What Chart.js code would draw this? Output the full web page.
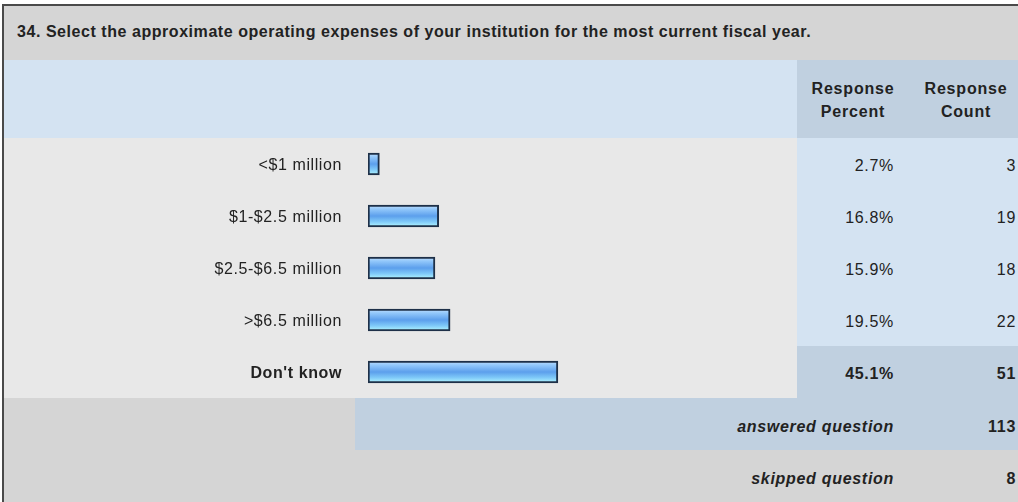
<!DOCTYPE html>
<html>
<head>
<meta charset="utf-8">
<script src="https://cdn.jsdelivr.net/npm/chart.js@4"></script>
<style>
    html, body { margin: 0; padding: 0; background: #fff; overflow: hidden; }
    body { width: 1018px; height: 502px; position: relative; font-family: "Liberation Sans", Arial, sans-serif; color: #222; }
    .frame { position: absolute; left: 2px; top: 4px; right: -10px; bottom: -10px; border-top: 2px solid #4a4a4a; border-left: 2px solid #4a4a4a; }
    .box { position: absolute; box-sizing: border-box; }
    .gray { background: #d5d5d5; }
    .light { background: #e8e8e8; }
    .blue { background: #d4e3f2; }
    .dblue { background: #c0d0e0; }
    .txt { position: absolute; font-size: 16px; letter-spacing: 0.7px; white-space: nowrap; }
    .b { font-weight: bold; }
    .bi { font-weight: bold; font-style: italic; }
    .title { letter-spacing: 0.55px; }
    .hdr { letter-spacing: 0.8px; }
    #chart { position: absolute; left: 4px; top: 138px; }
</style>
</head>
<body>
<div class="frame"></div>
<div id="table"></div>
<canvas id="chart" width="793" height="260"></canvas>

<script>
// Chart data
const questionTitle = '34. Select the approximate operating expenses of your institution for the most current fiscal year.';
const categories = ['<$1 million', '$1-$2.5 million', '$2.5-$6.5 million', '>$6.5 million', "Don't know"];
const percents = [2.7, 16.8, 15.9, 19.5, 45.1];
const counts = [3, 19, 18, 22, 51];
const answeredCount = 113;
const skippedCount = 8;

// Build the table around the chart
const table = document.getElementById('table');
let html = '';

function box(cls, x, y, w, h) {
    return `<div class="box ${cls}" style="left:${x}px;top:${y}px;width:${w}px;height:${h}px"></div>`;
}
function text(cls, str, x, y, align) {
    if (align === 'right') {
        // letter-spacing leaves a trailing gap, nudge it back
        return `<div class="txt ${cls}" style="right:${1018 - x - 1}px;top:${y}px">${str}</div>`;
    }
    if (align === 'center') {
        return `<div class="txt ${cls}" style="left:${x - 60}px;width:120px;text-align:center;top:${y}px">${str}</div>`;
    }
    return `<div class="txt ${cls}" style="left:${x}px;top:${y}px">${str}</div>`;
}

// title + header
html += box('gray', 4, 6, 1014, 54);
html += text('b title', questionTitle, 17, 23, 'left');
html += box('blue', 4, 60, 793, 78);
html += box('dblue', 797, 60, 221, 78);
html += text('b hdr', 'Response', 853, 80, 'center');
html += text('b hdr', 'Percent', 853, 103, 'center');
html += text('b hdr', 'Response', 966, 80, 'center');
html += text('b hdr', 'Count', 966, 103, 'center');

// data rows
categories.forEach((c, i) => {
    const y = 138 + i * 52;
    const last = i === categories.length - 1;
    html += box('light', 4, y, 793, 52);
    html += box(last ? 'dblue' : 'blue', 797, y, 221, 52);
    html += text(last ? 'b' : '', percents[i].toFixed(1) + '%', 893, y + 19, 'right');
    html += text(last ? 'b' : '', counts[i], 1015, y + 19, 'right');
});

// answered / skipped
html += box('gray', 4, 398, 351, 52);
html += box('dblue', 355, 398, 663, 52);
html += text('bi', 'answered question', 893, 418, 'right');
html += text('b', answeredCount, 1015, 418, 'right');
html += box('gray', 4, 450, 1014, 52);
html += text('bi', 'skipped question', 893, 470, 'right');
html += text('b', skippedCount, 1015, 470, 'right');

table.innerHTML = html;

// Gradient fill for each bar
function barGradient(context) {
    const chart = context.chart;
    const yScale = chart.scales.y;
    if (!chart.chartArea || !yScale) {
        return '#6aaef0';
    }
    const yc = yScale.getPixelForValue(context.dataIndex);
    const g = chart.ctx.createLinearGradient(0, yc - 11, 0, yc + 11);
    g.addColorStop(0, '#c0e0ff');
    g.addColorStop(0.2, '#90c6fa');
    g.addColorStop(0.5, '#5c9fec');
    g.addColorStop(0.75, '#7ec8f8');
    g.addColorStop(1, '#b4f8ff');
    return g;
}

// a bit of letter spacing for the tick labels
const spacingPlugin = {
    id: 'spacing',
    beforeDraw(chart) {
        chart.ctx.letterSpacing = '0.6px';
    }
};

const ctx = document.getElementById('chart').getContext('2d');

window.expenseChart = new Chart(ctx, {
    type: 'bar',
    data: {
        labels: categories,
        datasets: [{
            data: percents,
            backgroundColor: barGradient,
            borderColor: '#1e3048',
            borderWidth: 2,
            borderSkipped: false,
            barThickness: 22
        }]
    },
    options: {
        indexAxis: 'y',
        responsive: false,
        animation: false,
        layout: {
            padding: { left: 0, right: 8, top: 0, bottom: 0 }
        },
        scales: {
            x: {
                display: false,
                min: 0,
                max: 100
            },
            y: {
                grid: { display: false, drawTicks: false },
                border: { display: false },
                ticks: {
                    color: '#222',
                    padding: 26,
                    labelOffset: 2,
                    font: (c) => ({
                        family: '"Liberation Sans", Arial, sans-serif',
                        size: 16,
                        weight: c.index === 4 ? 'bold' : 'normal'
                    })
                },
                afterFit: (scale) => {
                    scale.width = 364;
                    scale.paddingTop = 0;
                    scale.paddingBottom = 0;
                }
            }
        },
        plugins: {
            legend: { display: false },
            tooltip: { enabled: false }
        }
    },
    plugins: [spacingPlugin]
});
</script>
</body>
</html>
